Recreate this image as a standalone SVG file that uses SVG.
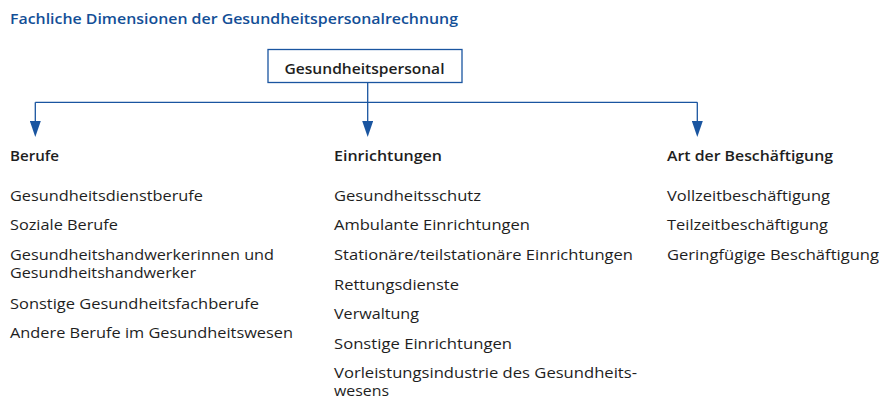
<svg xmlns="http://www.w3.org/2000/svg" width="890" height="409" viewBox="0 0 890 409">
<style>
text { font-family: "Open Sans", "DejaVu Sans", sans-serif; font-size: 15px; fill: #1e1e1e; }
.title { font-weight: 600; fill: #134f97; }
.head { font-weight: 600; }
.box { fill: #ffffff; stroke: #1a55a0; stroke-width: 1.3; }
.conn { fill: none; stroke: #1a55a0; stroke-width: 1.3; }
</style>
<defs>
<marker id="arr" markerUnits="userSpaceOnUse" markerWidth="16" markerHeight="11" viewBox="0 0 16 11" refX="0" refY="5.5" orient="auto">
<path d="M0,0 L16,5.5 L0,11 Z" fill="#1a55a0"/>
</marker>
</defs>
<rect width="890" height="409" fill="#ffffff"/>
<text class="title" x="10" y="24" textLength="448" lengthAdjust="spacingAndGlyphs">Fachliche Dimensionen der Gesundheitspersonalrechnung</text>

<g id="connectors">
<path class="conn" d="M367.7,82.5 V102.3"/>
<path class="conn" d="M35.3,102.3 H697.3"/>
<path class="conn" d="M35.3,102.3 V121" marker-end="url(#arr)"/>
<path class="conn" d="M367.7,102.3 V121" marker-end="url(#arr)"/>
<path class="conn" d="M697.3,102.3 V121" marker-end="url(#arr)"/>
</g>

<g id="node-root">
<rect class="box" x="268" y="49.5" width="194" height="33"/>
<text class="head" x="284.5" y="73.5" textLength="160" lengthAdjust="spacingAndGlyphs">Gesundheitspersonal</text>
</g>

<g id="node-berufe">
<text class="head" x="10" y="160.5" textLength="49" lengthAdjust="spacingAndGlyphs">Berufe</text>
<text x="10" y="200.5" textLength="193" lengthAdjust="spacingAndGlyphs">Gesundheitsdienstberufe</text>
<text x="10" y="229.5" textLength="108" lengthAdjust="spacingAndGlyphs">Soziale Berufe</text>
<text x="10" y="259.5" textLength="264" lengthAdjust="spacingAndGlyphs">Gesundheitshandwerkerinnen und</text>
<text x="10" y="277.5" textLength="186" lengthAdjust="spacingAndGlyphs">Gesundheitshandwerker</text>
<text x="10" y="308.5" textLength="249" lengthAdjust="spacingAndGlyphs">Sonstige Gesundheitsfachberufe</text>
<text x="10" y="337.5" textLength="283" lengthAdjust="spacingAndGlyphs">Andere Berufe im Gesundheitswesen</text>
</g>

<g id="node-einrichtungen">
<text class="head" x="334" y="160.5" textLength="108" lengthAdjust="spacingAndGlyphs">Einrichtungen</text>
<text x="334" y="200.5" textLength="147" lengthAdjust="spacingAndGlyphs">Gesundheitsschutz</text>
<text x="334" y="229.5" textLength="196" lengthAdjust="spacingAndGlyphs">Ambulante Einrichtungen</text>
<text x="334" y="259.5" textLength="299" lengthAdjust="spacingAndGlyphs">Stationäre/teilstationäre Einrichtungen</text>
<text x="334" y="289.5" textLength="125" lengthAdjust="spacingAndGlyphs">Rettungsdienste</text>
<text x="334" y="318.5" textLength="85" lengthAdjust="spacingAndGlyphs">Verwaltung</text>
<text x="334" y="348.5" textLength="178" lengthAdjust="spacingAndGlyphs">Sonstige Einrichtungen</text>
<text x="334" y="377.5" textLength="303" lengthAdjust="spacingAndGlyphs">Vorleistungsindustrie des Gesundheits-</text>
<text x="334" y="395.5" textLength="55" lengthAdjust="spacingAndGlyphs">wesens</text>
</g>

<g id="node-beschaeftigung">
<text class="head" x="667" y="160.5" textLength="166" lengthAdjust="spacingAndGlyphs">Art der Beschäftigung</text>
<text x="667" y="200.5" textLength="163" lengthAdjust="spacingAndGlyphs">Vollzeitbeschäftigung</text>
<text x="667" y="229.5" textLength="161" lengthAdjust="spacingAndGlyphs">Teilzeitbeschäftigung</text>
<text x="667" y="259.5" textLength="212" lengthAdjust="spacingAndGlyphs">Geringfügige Beschäftigung</text>
</g>
</svg>
